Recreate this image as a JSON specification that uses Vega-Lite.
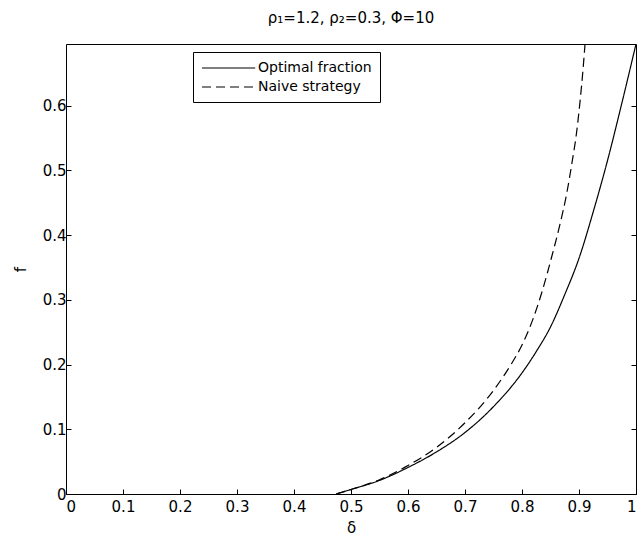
{
  "$schema": "https://vega.github.io/schema/vega-lite/v6.json",
  "width": 570,
  "height": 450,
  "autosize": {"type": "none"},
  "padding": {"left": 66, "top": 44, "right": 4, "bottom": 48},
  "background": "white",
  "title": {"text": "ρ₁=1.2, ρ₂=0.3, Φ=10", "fontSize": 15, "fontWeight": "normal", "font": "DejaVu Sans", "color": "black", "offset": 15},
  "config": {
    "view": {"stroke": "black", "strokeWidth": 1},
    "font": "DejaVu Sans",
    "axis": {"domain": false, "grid": false, "tickColor": "black", "tickSize": -5, "labelColor": "black", "labelFontSize": 15, "labelFont": "DejaVu Sans", "titleFont": "DejaVu Sans", "titleFontSize": 15, "titleFontWeight": "normal", "titleColor": "black"}
  },
  "data": {"values": [
    {"d": 0.474, "f": 0, "s": "Optimal fraction"},
    {"d": 0.50, "f": 0.007, "s": "Optimal fraction"},
    {"d": 0.55, "f": 0.021, "s": "Optimal fraction"},
    {"d": 0.60, "f": 0.041, "s": "Optimal fraction"},
    {"d": 0.65, "f": 0.065, "s": "Optimal fraction"},
    {"d": 0.70, "f": 0.095, "s": "Optimal fraction"},
    {"d": 0.75, "f": 0.135, "s": "Optimal fraction"},
    {"d": 0.80, "f": 0.187, "s": "Optimal fraction"},
    {"d": 0.825, "f": 0.22, "s": "Optimal fraction"},
    {"d": 0.85, "f": 0.258, "s": "Optimal fraction"},
    {"d": 0.875, "f": 0.308, "s": "Optimal fraction"},
    {"d": 0.90, "f": 0.364, "s": "Optimal fraction"},
    {"d": 0.925, "f": 0.436, "s": "Optimal fraction"},
    {"d": 0.95, "f": 0.515, "s": "Optimal fraction"},
    {"d": 0.975, "f": 0.603, "s": "Optimal fraction"},
    {"d": 1.0, "f": 0.695, "s": "Optimal fraction"},
    {"d": 0.474, "f": 0, "s": "Naive strategy"},
    {"d": 0.50, "f": 0.007, "s": "Naive strategy"},
    {"d": 0.55, "f": 0.022, "s": "Naive strategy"},
    {"d": 0.60, "f": 0.044, "s": "Naive strategy"},
    {"d": 0.65, "f": 0.072, "s": "Naive strategy"},
    {"d": 0.70, "f": 0.11, "s": "Naive strategy"},
    {"d": 0.75, "f": 0.16, "s": "Naive strategy"},
    {"d": 0.78, "f": 0.199, "s": "Naive strategy"},
    {"d": 0.80, "f": 0.23, "s": "Naive strategy"},
    {"d": 0.82, "f": 0.272, "s": "Naive strategy"},
    {"d": 0.835, "f": 0.312, "s": "Naive strategy"},
    {"d": 0.852, "f": 0.366, "s": "Naive strategy"},
    {"d": 0.867, "f": 0.418, "s": "Naive strategy"},
    {"d": 0.878, "f": 0.462, "s": "Naive strategy"},
    {"d": 0.887, "f": 0.508, "s": "Naive strategy"},
    {"d": 0.896, "f": 0.56, "s": "Naive strategy"},
    {"d": 0.902, "f": 0.608, "s": "Naive strategy"},
    {"d": 0.907, "f": 0.655, "s": "Naive strategy"},
    {"d": 0.911, "f": 0.7, "s": "Naive strategy"}
  ]},
  "layer": [
    {
      "mark": {"type": "line", "clip": true, "color": "black", "strokeWidth": 1.2, "interpolate": "monotone"},
      "encoding": {
        "x": {"field": "d", "type": "quantitative", "scale": {"domain": [0, 1], "nice": false},
              "axis": {"title": "δ", "values": [0, 0.1, 0.2, 0.3, 0.4, 0.5, 0.6, 0.7, 0.8, 0.9, 1], "format": "~g", "labelPadding": 10, "titlePadding": 6}},
        "y": {"field": "f", "type": "quantitative", "scale": {"domain": [0, 0.695], "nice": false},
              "axis": {"title": "f", "values": [0, 0.1, 0.2, 0.3, 0.4, 0.5, 0.6], "format": "~g", "labelPadding": 5, "titlePadding": 14}},
        "strokeDash": {"field": "s", "type": "nominal",
          "scale": {"domain": ["Optimal fraction", "Naive strategy"], "range": [[1, 0], [9, 5]]},
          "legend": {"title": null, "orient": "none", "legendX": 127, "legendY": 8, "strokeColor": "black", "fillColor": "white", "padding": 8, "symbolType": "M-1,0H6.6", "symbolSize": 196, "symbolStrokeWidth": 1.2, "symbolStrokeColor": "black", "labelFontSize": 14, "labelFont": "DejaVu Sans", "labelColor": "black", "labelOffset": 41, "rowPadding": 4}}
      }
    },
    {
      "mark": {"type": "line", "opacity": 0},
      "encoding": {
        "x": {"field": "d", "type": "quantitative", "scale": {"domain": [0, 1], "nice": false}},
        "y": {"field": "f", "type": "quantitative", "scale": {"domain": [0, 0.695], "nice": false},
              "axis": {"orient": "right", "title": null, "labels": false, "values": [0, 0.1, 0.2, 0.3, 0.4, 0.5, 0.6]}},
        "detail": {"field": "s"}
      }
    }
  ],
  "resolve": {"scale": {"y": "independent"}}
}
